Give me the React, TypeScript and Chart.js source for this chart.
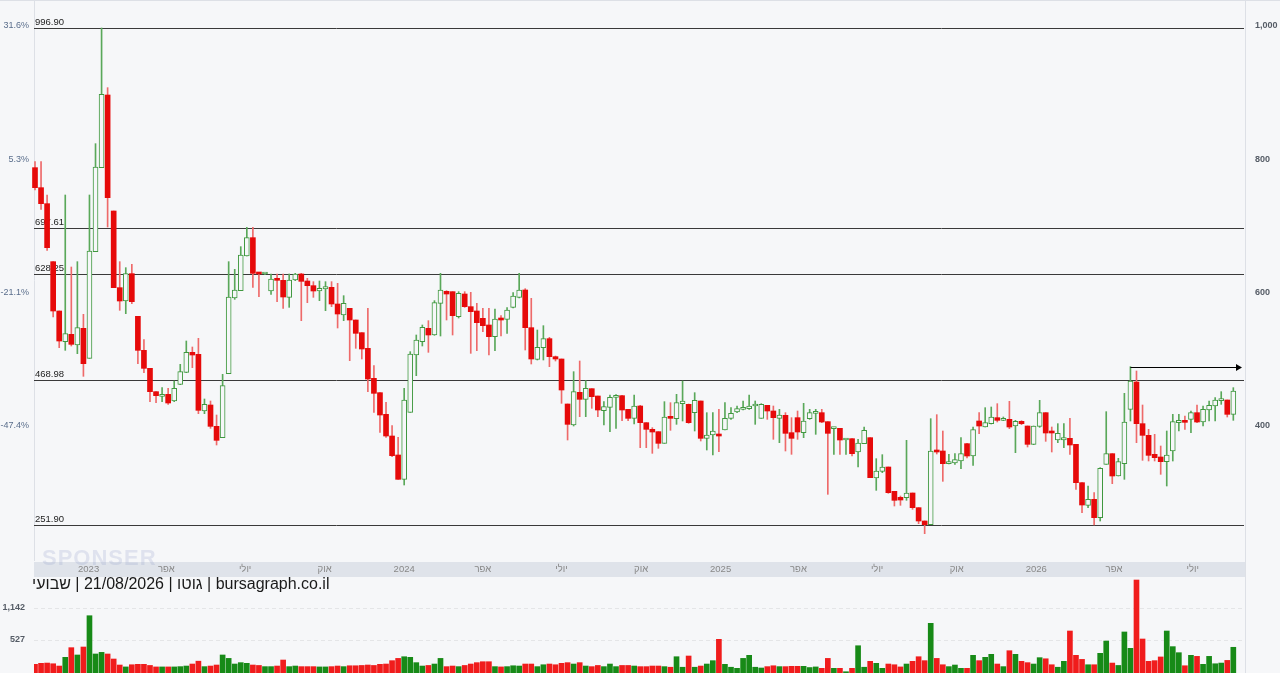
import React, { useEffect, useRef } from 'react';
import { Chart, registerables } from 'chart.js';

Chart.register(...registerables);
Chart.defaults.font.family = '"Liberation Sans", Arial, sans-serif';

// ---- weekly candles (first week starts 2022-10-31) ----
const FIRST_WEEK = '2022-10-31';

const OPEN = [
  787.5, 757.5, 733.5, 646.5, 572.5, 526.5, 537.5, 521.5, 546.5, 501.5,
  661.5, 787.5, 896.5, 722.5, 607.5, 587.5, 628.5, 564.5, 513.5, 486.5,
  451.5, 444.5, 447.5, 437.5, 462.5, 480.5, 510.5, 507.5, 422.5, 431.5,
  399.5, 382.5, 478.5, 592, 603, 655, 682.5, 629, 628, 602.5,
  620.5, 618.5, 593, 619, 628, 617.5, 610.5, 602.5, 605.5, 608,
  583, 566.5, 576.5, 559, 540, 516.5, 471.5, 450, 417.5, 385,
  356.5, 320, 420.5, 506.5, 526.5, 546.5, 536.5, 584, 602, 601.5,
  564, 598, 579, 572.5, 561.5, 551.5, 534, 560.5, 560, 578,
  593, 604, 547.5, 500, 517.5, 531, 504, 500.5, 433, 401.5,
  450.5, 440, 456, 445, 423, 428, 443, 445.5, 425, 411.5,
  430, 405, 395, 391.5, 374, 413.5, 411, 433.5, 432.5, 420,
  437.5, 381.5, 386.5, 386, 394, 411.5, 421, 425, 426, 430,
  411.5, 431, 422.5, 411.5, 416, 390, 412.5, 390, 411, 419,
  420, 406.5, 396, 396.5, 379, 381, 361, 373.5, 382.5, 322,
  332, 338.5, 302, 293, 292.5, 299.5, 277.5, 257.5, 252, 362.5,
  362.5, 343.5, 344.5, 347.5, 373.5, 355, 407.5, 398.5, 403.5, 412.5,
  408.5, 410, 400, 407, 400, 372.5, 399.5, 420, 391, 379,
  379, 381.5, 372.5, 315, 281, 290, 262.5, 342.5, 358.5, 325,
  343.5, 425, 466, 403.5, 386, 357.5, 353.5, 346.5, 362.5, 405,
  407.5, 410, 420, 406, 424, 430, 438, 439, 417.5,
];

const HIGH = [
  796.5, 796.5, 746.5, 646.5, 572.5, 746.5, 638.5, 646.5, 567.5, 746.5,
  823.5, 997, 907.5, 722.5, 646.5, 637.5, 642.5, 564.5, 529.5, 486.5,
  451.5, 457.5, 456.5, 467.5, 492.5, 527.5, 518.5, 531.5, 440.5, 437.5,
  416.5, 477.5, 646.5, 635, 669, 698, 698, 629, 629, 628,
  628, 628, 628, 629, 629, 621.5, 616.5, 617.5, 616.5, 616.5,
  614, 595.5, 576.5, 559, 540, 576.5, 490.5, 450, 435.5, 400.5,
  383, 456.5, 511.5, 536.5, 551.5, 558, 588, 629, 603, 601.5,
  601.5, 601.5, 600.5, 584, 576.5, 576.5, 575.5, 565.5, 577.5, 600,
  629, 606, 591.5, 544, 550.5, 533, 505, 500.5, 433, 481.5,
  497.5, 468, 456, 445, 436.5, 446.5, 447, 446, 425, 446.5,
  431, 405, 397.5, 391.5, 436.5, 435, 447.5, 467.5, 433, 450,
  437.5, 420, 420, 425, 435, 427.5, 430, 437.5, 446.5, 437.5,
  433.5, 431, 430, 425, 420, 412.5, 422.5, 434, 425, 425,
  425, 406.5, 398, 396.5, 381, 381, 380, 398.5, 382.5, 351,
  357, 338.5, 302, 295, 378.5, 299.5, 277.5, 257.5, 411, 417,
  392.5, 357.5, 358.5, 382.5, 374, 398.5, 420, 427.5, 428.5, 433.5,
  413.5, 437, 408.5, 408, 400, 400, 438.5, 420, 398.5, 403.5,
  403.5, 411.5, 372.5, 315, 310, 300, 337.5, 421.5, 358.5, 351.5,
  449, 489, 482.5, 431.5, 395, 387.5, 370, 392.5, 417.5, 417.5,
  415, 422.5, 431.5, 430, 437.5, 442.5, 451.5, 439, 457.5,
];

const LOW = [
  754, 725, 663.5, 563.5, 517.5, 513.5, 520, 508.5, 474.5, 501.5,
  661.5, 787.5, 698.5, 607.5, 573.5, 568.5, 583.5, 493.5, 480, 436.5,
  435, 436.5, 432.5, 436.5, 462, 480, 487.5, 418.5, 418.5, 396.5,
  371.5, 382.5, 478.5, 590, 603, 655, 608, 594, 627, 597.5,
  586.5, 576.5, 578, 618, 558, 585, 593, 588, 573, 579,
  547, 558, 498, 516.5, 500.5, 451.5, 420.5, 390.5, 383, 354,
  320, 311.5, 420.5, 475.5, 520, 510.5, 536, 535, 559, 536.5,
  562, 578, 509, 513, 541.5, 506.5, 513, 535, 539, 577,
  592, 514, 493, 499, 499, 489, 497.5, 434, 379, 400,
  414, 414, 426.5, 414, 401.5, 391.5, 396.5, 408, 408, 403,
  367.5, 367.5, 359, 366.5, 374, 393.5, 402.5, 407.5, 404, 392.5,
  377.5, 364, 356.5, 361.5, 394, 410, 420, 424, 425, 402.5,
  411.5, 410, 380, 375, 362.5, 357.5, 380, 382.5, 410, 387.5,
  405, 297.5, 357.5, 357.5, 357.5, 355, 338.5, 373.5, 322.5, 303.5,
  330, 299, 280, 281, 288.5, 275, 253.5, 238.5, 252, 358,
  317, 343, 342.5, 336, 352, 341, 388.5, 398.5, 403, 406,
  408, 396, 360, 402, 368.5, 372, 398, 377, 361, 375,
  367.5, 357.5, 305, 270, 277.5, 251.5, 257.5, 342.5, 313.5, 325,
  320, 407.5, 375, 348.5, 347.5, 347.5, 327.5, 310, 347.5, 392.5,
  395, 390, 405, 400, 407.5, 407.5, 432.5, 413.5, 408.5,
];

const CLOSE = [
  757.5, 733.5, 667.5, 572.5, 527.5, 538.5, 522.5, 547.5, 493.5, 662.5,
  788.5, 897.5, 742.5, 607.5, 587.5, 628.5, 586.5, 513.5, 486.5, 451.5,
  445.5, 447, 434.5, 456.5, 481.5, 510.5, 506.5, 423.5, 432.5, 399.5,
  378.5, 460.5, 593.5, 604, 656.5, 682.5, 629, 628, 628.5, 620.5,
  618.5, 593.5, 619, 628, 617, 610.5, 602.5, 606.5, 609, 583,
  568, 584, 559, 539, 515.5, 470.5, 449, 416.5, 385, 355.5,
  320, 439, 508, 529, 548, 536.5, 585, 604, 598, 565.5,
  599, 579, 571.5, 555, 550.5, 534, 560.5, 559, 574, 595,
  604, 547.5, 500.5, 518, 531, 504, 500.5, 454, 402.5, 451.5,
  440, 456.5, 444, 424, 429, 443, 446, 424, 411.5, 430,
  405, 395, 391, 374, 413.5, 411.5, 435, 437.5, 405, 438.5,
  381.5, 386.5, 392.5, 385, 411.5, 419, 426, 427.5, 430, 432.5,
  432.5, 422.5, 412.5, 416.5, 389, 381.5, 391, 407.5, 420, 420,
  406, 389, 397.5, 379, 381, 358.5, 374.5, 393.5, 322.5, 332.5,
  338.5, 300, 288.5, 289, 299.5, 277.5, 257.5, 252, 362.5, 361,
  343.5, 346, 349.5, 358.5, 355, 394.5, 400, 405, 413.5, 408.5,
  410, 398.5, 407, 403.5, 372.5, 400, 420, 389.5, 389.5, 389,
  382.5, 371.5, 315, 281.5, 290, 262.5, 336.5, 358.5, 325, 346.5,
  406, 467.5, 403.5, 386, 356, 352.5, 346.5, 356.5, 406.5, 408.5,
  405.5, 420, 406, 425, 431, 439, 439, 417.5, 452.5,
];

const VOLUME = [
  293, 300, 302, 297, 281, 347, 438, 367, 445, 948,
  376, 391, 376, 333, 288, 275, 290, 293, 293, 285,
  275, 275, 275, 275, 277, 281, 295, 316, 277, 281,
  288, 367, 338, 295, 305, 300, 288, 285, 277, 277,
  281, 325, 277, 281, 277, 277, 277, 275, 275, 277,
  281, 277, 283, 283, 285, 288, 285, 293, 295, 320,
  338, 352, 347, 305, 281, 285, 295, 338, 277, 281,
  277, 285, 295, 305, 312, 312, 277, 275, 277, 283,
  281, 295, 295, 277, 290, 295, 290, 300, 305, 295,
  305, 281, 277, 285, 277, 295, 277, 285, 285, 281,
  277, 277, 281, 281, 277, 273, 352, 273, 358, 273,
  281, 295, 320, 536, 293, 273, 266, 338, 364, 273,
  268, 277, 283, 277, 277, 279, 279, 279, 271, 275,
  266, 338, 266, 266, 245, 266, 459, 273, 315, 300,
  266, 295, 290, 275, 295, 315, 352, 320, 789, 338,
  290, 277, 288, 266, 266, 364, 320, 347, 373, 295,
  277, 407, 373, 315, 305, 295, 344, 335, 290, 273,
  315, 655, 364, 330, 290, 290, 382, 514, 302, 285,
  640, 431, 2246, 540, 315, 320, 350, 655, 449, 388,
  283, 364, 355, 293, 355, 297, 302, 322, 442,
];

// ---- levels, ticks, labels ----
const LEVELS = [996.9, 697.61, 628.25, 468.98, 251.9];
const PRICE_TICKS = [400, 600, 800, 1000];
const PCT_BASE = 760;
const VOL_TICKS = [527, 1142];
const ARROW_INDEX = 181;
const MONTH_TICK_DATES = [
  '2023-01-01', '2023-04-01', '2023-07-01', '2023-10-01',
  '2024-01-01', '2024-04-01', '2024-07-01', '2024-10-01',
  '2025-01-01', '2025-04-01', '2025-07-01', '2025-10-01',
  '2026-01-01', '2026-04-01', '2026-07-01',
];
const MONTH_TICK_LABELS = [
  '2023', 'אפר', 'יולי', 'אוק',
  '2024', 'אפר', 'יולי', 'אוק',
  '2025', 'אפר', 'יולי', 'אוק',
  '2026', 'אפר', 'יולי',
];
const TITLE = 'bursagraph.co.il | גוטו | 21/08/2026 | שבועי';

// ---- styling ----
const BG = '#f6f7f9';
const BAND = '#dfe3ea';
const UP = '#3f983f';
const UP_WICK = '#5aa85a';
const DOWN = '#e60a0a';
const DOWN_WICK = '#ee6a6a';
const VOL_UP = '#178a17';
const VOL_DOWN = '#f01c1c';
const BORDER = '#dde0e6';

const X_MIN = -0.165;
const X_MAX = 199.93;
const Y_MIN = 197.5;
const Y_MAX = 1037.5;
const VOL_MIN = 237.5;
const VOL_MAX = 2358;

const weekIndex = (d: string) => (Date.parse(d) - Date.parse(FIRST_WEEK)) / (7 * 864e5);
const isUp = (i: number) => CLOSE[i] >= OPEN[i];
const fmtPct = (v: number) => ((v / PCT_BASE - 1) * 100).toFixed(1) + '%';
const fmtNum = (v: number) => Number(v).toLocaleString('en-US');

const fixWidth = (w: number) => (s: any) => {
  s.width = w;
  s.paddingTop = 0;
  s.paddingBottom = 0;
};

export default function App() {
  const priceRef = useRef<HTMLCanvasElement | null>(null);
  const volRef = useRef<HTMLCanvasElement | null>(null);

  useEffect(() => {
    const idx = OPEN.map((_, i) => i);

    const priceDeco = {
      id: 'priceDeco',
      beforeDraw(chart: any) {
        const { ctx, chartArea: a } = chart;
        ctx.save();
        ctx.fillStyle = BAND;
        ctx.fillRect(a.left, a.bottom + 1, a.right - a.left, 15);
        ctx.strokeStyle = BORDER;
        ctx.lineWidth = 1;
        ctx.beginPath();
        ctx.moveTo(0, 0.5);
        ctx.lineTo(chart.width, 0.5);
        ctx.moveTo(Math.round(a.left) + 0.5, 0);
        ctx.lineTo(Math.round(a.left) + 0.5, a.bottom);
        ctx.moveTo(Math.round(a.right) + 0.5, 0);
        ctx.lineTo(Math.round(a.right) + 0.5, chart.height);
        ctx.stroke();
        ctx.restore();
      },
      beforeDatasetsDraw(chart: any) {
        const { ctx, chartArea: a } = chart;
        const ys = chart.scales.y;
        ctx.save();
        ctx.strokeStyle = '#3a3a3a';
        ctx.lineWidth = 1;
        ctx.fillStyle = '#222';
        ctx.font = '9.5px "Liberation Sans", Arial, sans-serif';
        ctx.textBaseline = 'bottom';
        ctx.textAlign = 'left';
        LEVELS.forEach((v) => {
          const y = Math.round(ys.getPixelForValue(v)) + 0.5;
          ctx.beginPath();
          ctx.moveTo(a.left, y);
          ctx.lineTo(a.right - 1, y);
          ctx.stroke();
          ctx.fillText(v.toFixed(2), a.left + 1, y - 1);
        });
        ctx.restore();
      },
      afterDatasetsDraw(chart: any) {
        const { ctx, chartArea: a } = chart;
        const xs = chart.scales.x;
        const ys = chart.scales.y;
        const x0 = xs.getPixelForValue(ARROW_INDEX);
        const y0 = Math.round(ys.getPixelForValue(HIGH[ARROW_INDEX])) + 0.5;
        const x1 = a.right - 3;
        ctx.save();
        ctx.strokeStyle = '#000';
        ctx.fillStyle = '#000';
        ctx.lineWidth = 1.2;
        ctx.beginPath();
        ctx.moveTo(x0, y0);
        ctx.lineTo(x1 - 5, y0);
        ctx.stroke();
        ctx.beginPath();
        ctx.moveTo(x1, y0);
        ctx.lineTo(x1 - 6, y0 - 3.5);
        ctx.lineTo(x1 - 6, y0 + 3.5);
        ctx.closePath();
        ctx.fill();
        ctx.restore();
      },
    };

    const price = new Chart(priceRef.current as HTMLCanvasElement, {
      type: 'bar',
      data: {
        datasets: [
          {
            label: 'body',
            data: idx.map((i) => ({ x: i, y: [OPEN[i], CLOSE[i]] })) as any,
            backgroundColor: (c: any) => (isUp(c.dataIndex) ? BG : DOWN),
            borderColor: (c: any) => (isUp(c.dataIndex) ? UP : DOWN),
            borderWidth: (c: any) => (isUp(c.dataIndex) ? 1 : 0),
            borderSkipped: false,
            barThickness: 5,
            minBarLength: 2,
            grouped: false,
            order: 0,
            yAxisID: 'y',
            clip: false as any,
          } as any,
          {
            label: 'wick',
            data: idx.map((i) => ({ x: i, y: [LOW[i], HIGH[i]] })) as any,
            backgroundColor: (c: any) => (isUp(c.dataIndex) ? UP_WICK : DOWN_WICK),
            borderWidth: 0,
            barThickness: 1,
            grouped: false,
            order: 1,
            yAxisID: 'y',
          } as any,
        ],
      },
      options: {
        responsive: false,
        animation: false,
        events: [],
        layout: { padding: { top: 1, left: 0, right: 0, bottom: 0 } },
        plugins: { legend: { display: false }, tooltip: { enabled: false } },
        scales: {
          x: {
            type: 'linear',
            min: X_MIN,
            max: X_MAX,
            offset: false,
            grid: { display: false, drawTicks: false },
            border: { display: false },
            afterBuildTicks: (s: any) => {
              s.ticks = MONTH_TICK_DATES.map((d) => ({ value: weekIndex(d) }));
            },
            afterFit: (s: any) => {
              s.height = 17;
              s.paddingLeft = 0;
              s.paddingRight = 0;
            },
            ticks: {
              autoSkip: false,
              maxRotation: 0,
              padding: 3,
              color: '#888',
              font: { size: 9.5 },
              callback: (_v: any, i: number) => MONTH_TICK_LABELS[i],
            },
          },
          y: {
            position: 'right',
            min: Y_MIN,
            max: Y_MAX,
            grid: { display: false, drawTicks: false },
            border: { display: false },
            afterBuildTicks: (s: any) => {
              s.ticks = PRICE_TICKS.map((v) => ({ value: v }));
            },
            afterFit: fixWidth(35),
            ticks: {
              padding: 10,
              color: '#555c66',
              font: { size: 9, weight: 'bold' },
              callback: (v: any) => fmtNum(v),
            },
          },
          yl: {
            position: 'left',
            min: Y_MIN,
            max: Y_MAX,
            grid: { display: false, drawTicks: false },
            border: { display: false },
            afterBuildTicks: (s: any) => {
              s.ticks = PRICE_TICKS.map((v) => ({ value: v }));
            },
            afterFit: fixWidth(34),
            ticks: {
              padding: 5,
              color: '#5a6e8c',
              font: { size: 9 },
              callback: (v: any) => fmtPct(Number(v)),
            },
          },
        } as any,
      },
      plugins: [priceDeco],
    });

    const volDeco = {
      id: 'volDeco',
      beforeDraw(chart: any) {
        const { ctx, chartArea: a } = chart;
        ctx.save();
        ctx.strokeStyle = BORDER;
        ctx.lineWidth = 1;
        ctx.beginPath();
        ctx.moveTo(Math.round(a.right) + 0.5, 0);
        ctx.lineTo(Math.round(a.right) + 0.5, chart.height);
        ctx.stroke();
        ctx.restore();
      },
    };

    const vol = new Chart(volRef.current as HTMLCanvasElement, {
      type: 'bar',
      data: {
        datasets: [
          {
            label: 'volume',
            data: idx.map((i) => ({ x: i, y: VOLUME[i] })) as any,
            backgroundColor: (c: any) => (isUp(c.dataIndex) ? VOL_UP : VOL_DOWN),
            borderWidth: 0,
            barThickness: 5,
            base: VOL_MIN,
          } as any,
        ],
      },
      options: {
        responsive: false,
        animation: false,
        events: [],
        layout: { padding: { top: 0, left: 0, right: 35, bottom: 0 } },
        plugins: { legend: { display: false }, tooltip: { enabled: false } },
        scales: {
          x: { type: 'linear', min: X_MIN, max: X_MAX, offset: false, display: false },
          y: {
            type: 'logarithmic',
            position: 'left',
            min: VOL_MIN,
            max: VOL_MAX,
            grid: { color: 'rgba(0,0,0,0.07)', drawTicks: false },
            border: { display: false, dash: [4, 3] },
            afterBuildTicks: (s: any) => {
              s.ticks = VOL_TICKS.map((v) => ({ value: v }));
            },
            afterFit: fixWidth(34),
            ticks: {
              padding: 9,
              color: '#555c66',
              font: { size: 9, weight: 'bold' },
              callback: (v: any) => fmtNum(v),
            },
          },
        } as any,
      },
      plugins: [volDeco],
    });

    return () => {
      price.destroy();
      vol.destroy();
    };
  }, []);

  return (
    <div
      style={{
        position: 'fixed',
        left: 0,
        top: 0,
        width: 1280,
        height: 673,
        overflow: 'hidden',
        background: BG,
        fontFamily: '"Liberation Sans", Arial, sans-serif',
      }}
    >
      <canvas
        ref={priceRef}
        width={1280}
        height={578}
        style={{ position: 'absolute', left: 0, top: 0, width: 1280, height: 578 }}
      />
      <canvas
        ref={volRef}
        width={1280}
        height={95}
        style={{ position: 'absolute', left: 0, top: 578, width: 1280, height: 95 }}
      />
      <div
        style={{
          position: 'absolute',
          left: 42,
          top: 545,
          fontSize: 22,
          fontWeight: 'bold',
          color: 'rgba(140,155,200,0.22)',
          letterSpacing: 1,
          pointerEvents: 'none',
        }}
      >
        SPONSER
      </div>
      <div
        dir="rtl"
        style={{
          position: 'absolute',
          left: 32,
          top: 575,
          fontSize: 16,
          lineHeight: '18px',
          color: '#1a1a1a',
          whiteSpace: 'nowrap',
        }}
      >
        {TITLE}
      </div>
    </div>
  );
}
